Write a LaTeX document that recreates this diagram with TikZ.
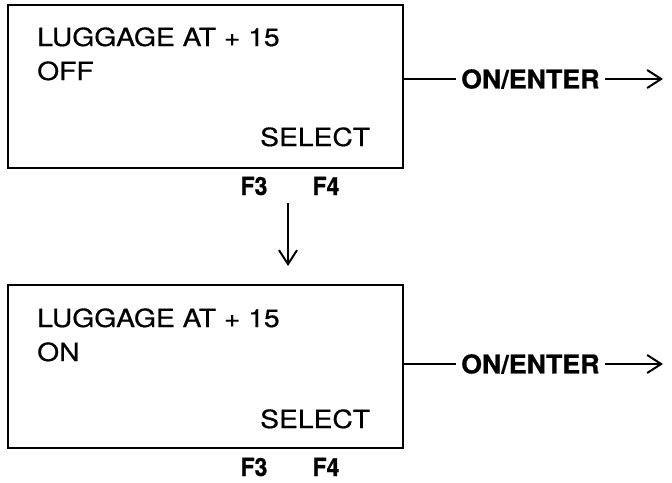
\documentclass[tikz,border=0pt]{standalone}
\usepackage{fontspec}
\usetikzlibrary{arrows.meta,positioning}
\newfontfamily\lcdfont[FakeStretch=1.13,FakeBold=0.6]{TeX Gyre Heros}
\newfontfamily\keyfont[FakeStretch=1.03,FakeBold=0.8]{TeX Gyre Heros}
\newfontfamily\fkeyfont[FakeStretch=0.92,FakeBold=0.8]{TeX Gyre Heros}

\begin{document}
\begin{tikzpicture}[
  x=1pt,y=-1pt,
  >={Straight Barb[length=14pt,width=18pt]},
  screen/.style={draw,line width=2pt,minimum width=395pt,minimum height=163pt,inner sep=0pt},
  lcd/.style={anchor=base west,inner sep=0pt,font=\lcdfont\fontsize{25}{30}\selectfont},
  fkey/.style={anchor=base,inner sep=0pt,font=\fkeyfont\bfseries\fontsize{25}{30}\selectfont},
  keylabel/.style={anchor=west,inner sep=5pt,font=\keyfont\bfseries\fontsize{26}{31}\selectfont},
  link/.style={line width=2pt}
]
\useasboundingbox (0,0) rectangle (672,482);

% first screen: option switched off
\node[screen] (box1) at (205.5,86.5) {};
\node[lcd] (title1) at (37,46) {LUGGAGE AT + 15};
\node[lcd] (state1) at (37,80) {OFF};
\node[lcd] (select1) at (260,146) {SELECT};
\node[fkey] (fthree1) at (254,195) {F3};
\node[fkey] (ffour1) at (326,195) {F4};

\node[keylabel] (enter1) at (456,79) {ON/ENTER};
\coordinate (out1) at (663,79);
\draw[link] (box1.east |- enter1.west) -- (enter1.west);
\draw[link,->] (enter1.east) -- (out1);

% second screen: option switched on
\node[screen] (box2) at (205.5,366.5) {};
\node[lcd] (title2) at (37,327) {LUGGAGE AT + 15};
\node[lcd] (state2) at (37,361) {ON};
\node[lcd] (select2) at (260,428) {SELECT};
\node[fkey] (fthree2) at (254,476) {F3};
\node[fkey] (ffour2) at (326,476) {F4};

\node[keylabel] (enter2) at (456,364) {ON/ENTER};
\coordinate (out2) at (663,364);
\draw[link] (box2.east |- enter2.west) -- (enter2.west);
\draw[link,->] (enter2.east) -- (out2);

% F3 leads to the second screen
\coordinate (down) at (288,203);
\draw[link,->,shorten >=18pt] (down) -- (down |- box2.north);
\end{tikzpicture}
\end{document}
